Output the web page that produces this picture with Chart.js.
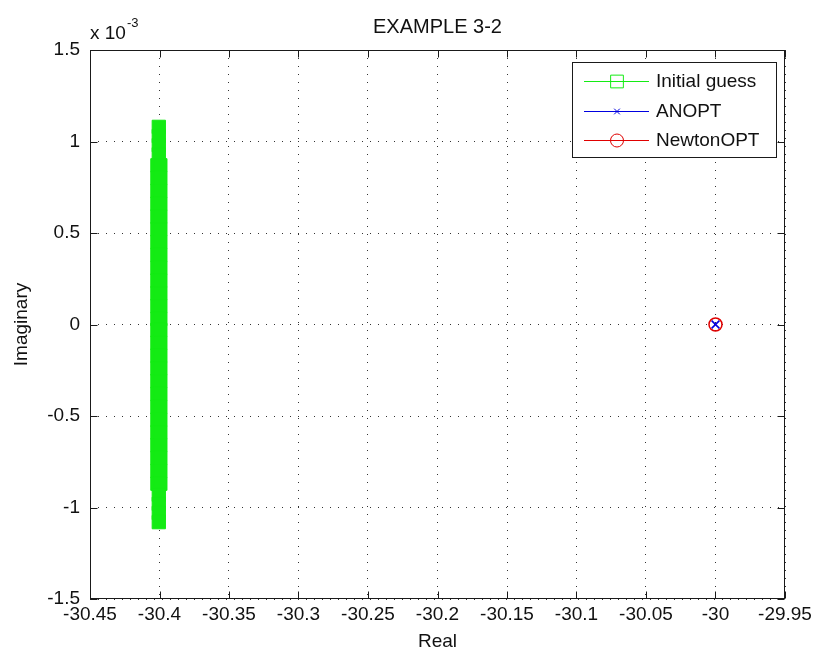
<!DOCTYPE html>
<html>
<head>
<meta charset="utf-8">
<title>EXAMPLE 3-2</title>
<script src="https://cdn.jsdelivr.net/npm/chart.js@4.4.1/dist/chart.umd.min.js"></script>
<style>
  body { margin: 0; background: #fff; }
  canvas { display: block; }
</style>
</head>
<body>
<canvas id="chart" width="816" height="654"></canvas>
<script>
// tick values shown on the axes
const xTicks = [-30.45, -30.4, -30.35, -30.3, -30.25, -30.2, -30.15, -30.1, -30.05, -30, -29.95];
const yTicks = [-1.5e-3, -1e-3, -0.5e-3, 0, 0.5e-3, 1e-3, 1.5e-3];

// initial guess roots (real / imaginary parts)
const initReal = [
  -30.4005, -30.4005, -30.4005, -30.4005,
  -30.4015, -30.3994, -30.4015, -30.3994, -30.4015, -30.3994, -30.4015, -30.3994,
  -30.4015, -30.3994, -30.4015, -30.3994, -30.4015, -30.3994, -30.4015, -30.3994,
  -30.4015, -30.3994, -30.4015, -30.3994, -30.4015, -30.3994, -30.4015, -30.3994,
  -30.4015, -30.3994, -30.4015, -30.3994, -30.4015, -30.3994, -30.4015, -30.3994,
  -30.4015, -30.3994, -30.4015, -30.3994, -30.4015, -30.3994, -30.4015, -30.3994,
  -30.4015, -30.3994, -30.4015, -30.3994, -30.4015, -30.3994, -30.4015, -30.3994,
  -30.4015, -30.3994, -30.4015, -30.3994,
  -30.4005, -30.4005, -30.4005, -30.4005
];
const initImag = [
  1.08e-3, 1.03e-3, 0.98e-3, 0.93e-3,
  0.87e-3, 0.87e-3, 0.80e-3, 0.80e-3, 0.73e-3, 0.73e-3, 0.66e-3, 0.66e-3,
  0.59e-3, 0.59e-3, 0.52e-3, 0.52e-3, 0.45e-3, 0.45e-3, 0.38e-3, 0.38e-3,
  0.31e-3, 0.31e-3, 0.24e-3, 0.24e-3, 0.17e-3, 0.17e-3, 0.10e-3, 0.10e-3,
  0.03e-3, 0.03e-3, -0.03e-3, -0.03e-3, -0.10e-3, -0.10e-3, -0.17e-3, -0.17e-3,
  -0.24e-3, -0.24e-3, -0.31e-3, -0.31e-3, -0.38e-3, -0.38e-3, -0.45e-3, -0.45e-3,
  -0.52e-3, -0.52e-3, -0.59e-3, -0.59e-3, -0.66e-3, -0.66e-3, -0.73e-3, -0.73e-3,
  -0.80e-3, -0.80e-3, -0.87e-3, -0.87e-3,
  -0.93e-3, -0.98e-3, -1.03e-3, -1.08e-3
];

// optimised roots
const anoptReal = [-30];
const anoptImag = [0];
const newtonReal = [-30];
const newtonImag = [0];

const FONT = '"Liberation Sans", Arial, Helvetica, sans-serif';
const AXIS_COLOR = '#1a1a1a';
const GREEN = 'rgb(20,235,20)';
const BLUE = '#0000e0';
const RED = '#e00000';

const toPoints = (xs, ys) => xs.map((x, i) => ({ x, y: ys[i] }));

// box, inward ticks, titles and legend, drawn the way matlab does it
const matlabDecor = {
  id: 'matlabDecor',
  afterDraw(chart) {
    const { ctx, chartArea: a, scales } = chart;
    const L = Math.round(a.left) + 0.5, R = Math.round(a.right) - 0.5;
    const T = Math.round(a.top) + 0.5, B = Math.round(a.bottom) - 0.5;
    const tick = 7;

    ctx.save();
    ctx.strokeStyle = AXIS_COLOR;
    ctx.lineWidth = 1;
    ctx.strokeRect(L, T, R - L, B - T);

    ctx.beginPath();
    xTicks.forEach(v => {
      const px = Math.round(scales.x.getPixelForValue(v)) + 0.5;
      ctx.moveTo(px, B); ctx.lineTo(px, B - tick);
      ctx.moveTo(px, T); ctx.lineTo(px, T + tick);
    });
    yTicks.forEach(v => {
      const py = Math.round(scales.y.getPixelForValue(v)) + 0.5;
      ctx.moveTo(L, py); ctx.lineTo(L + tick, py);
      ctx.moveTo(R, py); ctx.lineTo(R - tick, py);
    });
    ctx.stroke();

    // titles
    ctx.fillStyle = '#111';
    ctx.textAlign = 'center';
    ctx.textBaseline = 'middle';
    const cx = (a.left + a.right) / 2;
    ctx.font = '20px ' + FONT;
    ctx.fillText('EXAMPLE 3-2', cx, 27);
    ctx.font = '19px ' + FONT;
    ctx.fillText('Real', cx, 642);
    ctx.save();
    ctx.translate(22, (a.top + a.bottom) / 2);
    ctx.rotate(-Math.PI / 2);
    ctx.fillText('Imaginary', 0, 0);
    ctx.restore();

    // exponent label
    ctx.textAlign = 'left';
    ctx.textBaseline = 'alphabetic';
    ctx.fillText('x 10', 90, 39);
    ctx.font = '13px ' + FONT;
    ctx.fillText('-3', 127, 27);

    // legend
    const box = { x: 572.5, y: 62.5, w: 204, h: 95 };
    ctx.fillStyle = '#fff';
    ctx.fillRect(box.x, box.y, box.w, box.h);
    ctx.strokeStyle = AXIS_COLOR;
    ctx.strokeRect(box.x, box.y, box.w, box.h);

    const rows = [81, 111, 140];
    const legendMarks = [
      { pointStyle: 'rect', radius: 9 },
      { pointStyle: 'crossRot', radius: 4 },
      { pointStyle: 'circle', radius: 6.5 }
    ];
    ctx.font = '19px ' + FONT;
    ctx.textBaseline = 'middle';
    chart.data.datasets.forEach((ds, i) => {
      const y = rows[i];
      ctx.strokeStyle = ds.borderColor;
      ctx.lineWidth = 1;
      ctx.beginPath();
      ctx.moveTo(584, y + 0.5);
      ctx.lineTo(649, y + 0.5);
      ctx.stroke();
      ctx.fillStyle = 'rgba(0,0,0,0)';
      Chart.helpers.drawPoint(ctx, {
        pointStyle: legendMarks[i].pointStyle,
        radius: legendMarks[i].radius,
        rotation: 0,
        borderWidth: 1
      }, 617, y + 0.5);
      ctx.fillStyle = '#111';
      ctx.fillText(ds.label, 656, y + 1);
    });
    ctx.restore();
  }
};

new Chart(document.getElementById('chart'), {
  type: 'scatter',
  data: {
    datasets: [
      {
        label: 'Initial guess',
        data: toPoints(initReal, initImag),
        showLine: true,
        borderColor: GREEN,
        borderWidth: 1,
        pointStyle: 'rect',
        pointRadius: 9.4,
        pointBackgroundColor: GREEN,
        pointBorderColor: GREEN,
        pointBorderWidth: 1
      },
      {
        label: 'ANOPT',
        data: toPoints(anoptReal, anoptImag),
        borderColor: BLUE,
        pointStyle: 'crossRot',
        pointRadius: 5.5,
        pointBorderColor: BLUE,
        pointBorderWidth: 1.6
      },
      {
        label: 'NewtonOPT',
        data: toPoints(newtonReal, newtonImag),
        borderColor: RED,
        pointStyle: 'circle',
        pointRadius: 6.5,
        pointBackgroundColor: 'rgba(0,0,0,0)',
        pointBorderColor: RED,
        pointBorderWidth: 1.5
      }
    ]
  },
  options: {
    responsive: false,
    animation: false,
    events: [],
    layout: { padding: { top: 50, right: 31, left: 0, bottom: 0 } },
    plugins: {
      legend: { display: false },
      tooltip: { enabled: false }
    },
    scales: {
      x: {
        type: 'linear',
        min: -30.45,
        max: -29.95,
        afterBuildTicks: (s) => { s.ticks = xTicks.map(value => ({ value })); },
        afterFit: (s) => { s.height = 55; },
        grid: { color: '#333', lineWidth: 1, drawTicks: false },
        border: { display: false, dash: [1, 7] },
        ticks: {
          padding: 4,
          color: '#111',
          font: { family: FONT, size: 19 },
          maxRotation: 0,
          autoSkip: false,
          callback: (v) => String(Number(v.toFixed(2)))
        }
      },
      y: {
        type: 'linear',
        min: -1.5e-3,
        max: 1.5e-3,
        afterBuildTicks: (s) => { s.ticks = yTicks.map(value => ({ value })); },
        afterFit: (s) => { s.width = 90; },
        grid: { color: '#333', lineWidth: 1, drawTicks: false },
        border: { display: false, dash: [1, 7] },
        ticks: {
          padding: 10,
          color: '#111',
          font: { family: FONT, size: 19 },
          autoSkip: false,
          callback: (v) => String(Number((v * 1000).toFixed(2)))
        }
      }
    }
  },
  plugins: [matlabDecor]
});
</script>
</body>
</html>
